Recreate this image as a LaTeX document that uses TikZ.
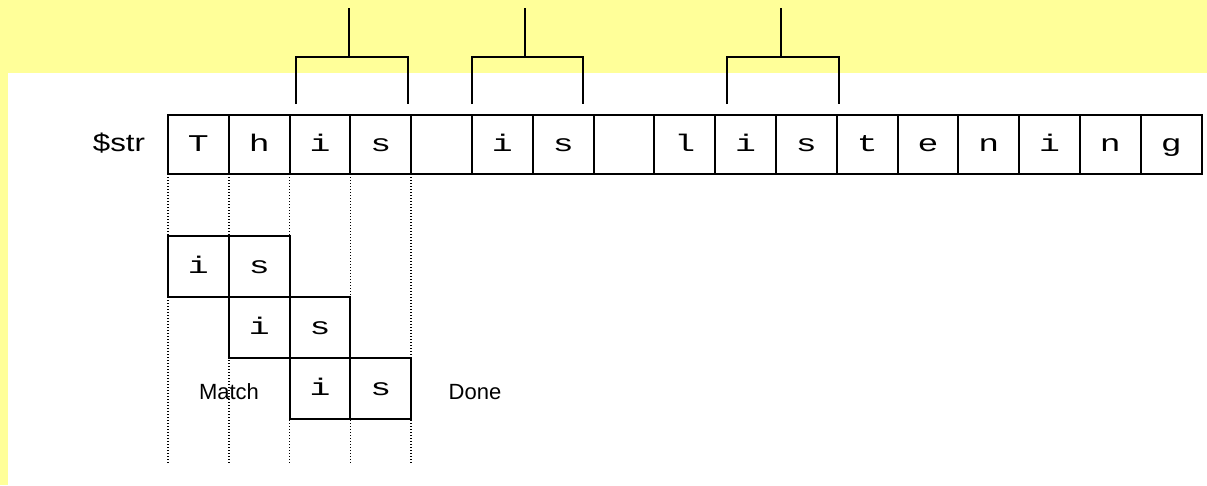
\documentclass[tikz,border=0pt]{standalone}
\usepackage{fontspec}
\setmainfont{Liberation Sans}
\newfontfamily\cellfont{Liberation Mono}
\definecolor{bgyellow}{HTML}{FFFF99}
\begin{document}
\begin{tikzpicture}[x=1pt,y=-1pt,
  cell/.style={draw, line width=2pt, minimum width=60.8pt, minimum height=59pt, inner sep=0pt,
    font=\cellfont\fontsize{24}{24}\selectfont, text height=17pt, text depth=2pt},
  lowcell/.style={cell, minimum height=61pt},
  bracketline/.style={line width=2.6pt},
  guide/.style={line width=1.5pt, dash pattern=on 1.4pt off 1.6pt},
  lbl/.style={font=\fontsize{22}{22}\selectfont, inner sep=0pt}]
\useasboundingbox (0,0) rectangle (1207,485);
\fill[bgyellow] (0,0) rectangle (1207,485);
\fill[white] (8,73) rectangle (1207,485);
% guide lines
\foreach \gx in {168,228.8,289.6,350.4,411.2}
  \draw[guide] (\gx,174) -- (\gx,463);
% string cells
\foreach \ch [count=\i] in {T,h,i,s,{},i,s,{},l,i,s,t,e,n,i,n,g}
  \node[cell] (c\i) at ({168+60.8*(\i-0.5)},144) {\scalebox{1.45}[1]{\ch}};
\node[lbl, font=\fontsize{25}{25}\selectfont] (str) at (119,143) {\scalebox{1.25}[1]{\$str}};
% pattern boxes
\node[lowcell] (a1) at ({168+60.8*0.5},266) {\scalebox{1.45}[1]{i}};
\node[lowcell] (a2) at ({168+60.8*1.5},266) {\scalebox{1.45}[1]{s}};
\node[lowcell] (b1) at ({168+60.8*1.5},327) {\scalebox{1.45}[1]{i}};
\node[lowcell] (b2) at ({168+60.8*2.5},327) {\scalebox{1.45}[1]{s}};
\node[lowcell] (d1) at ({168+60.8*2.5},388) {\scalebox{1.45}[1]{i}};
\node[lowcell] (d2) at ({168+60.8*3.5},388) {\scalebox{1.45}[1]{s}};
\node[lbl] (match) at (229,392) {Match};
\node[lbl] (done) at (475,392) {Done};
% brackets
\foreach \lx/\rx/\s [count=\b] in {296/408/349, 472/583/525, 727/839/781}{
  \coordinate (bl\b) at (\lx,104);
  \coordinate (br\b) at (\rx,104);
  \coordinate (top\b) at (\s,8);
  \draw[bracketline] (bl\b) |- (\s,57) -| (br\b);
  \draw[bracketline] (\s,57) -- (top\b);
}
\end{tikzpicture}
\end{document}
